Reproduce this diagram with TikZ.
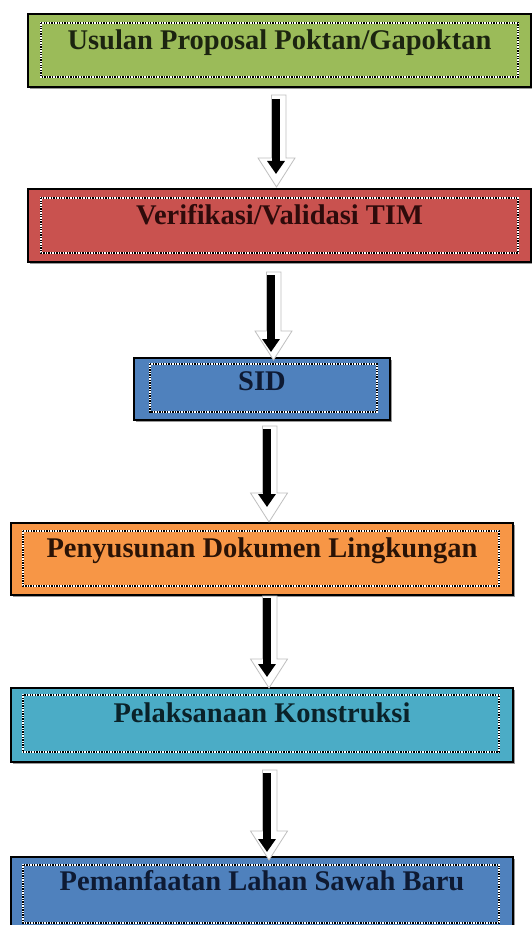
\documentclass[tikz,border=0pt]{standalone}
\usepackage{fontspec}
\setmainfont{Liberation Serif}
\usetikzlibrary{arrows.meta,calc}
\definecolor{cgreen}{HTML}{9BBB59}
\definecolor{cred}{HTML}{C9524F}
\definecolor{cblue}{HTML}{4F81BD}
\definecolor{corange}{HTML}{F79646}
\definecolor{caqua}{HTML}{4BACC6}
\definecolor{tgreen}{HTML}{1C2410}
\definecolor{tred}{HTML}{2E0B0B}
\definecolor{tblue}{HTML}{0E1A33}
\definecolor{torange}{HTML}{2A1306}
\definecolor{taqua}{HTML}{0A2229}
% #1 black shaft centre, #2 head centre, #3 top, #4 tip
\newcommand\outlinearrow[4]{%
  \draw[outarrow] (#1-4.5,#3) -- (#1+10,#3) -- (#1+10,#4-29) -- (#2+18.5,#4-29)
    -- (#2,#4) -- (#2-18.5,#4-29) -- (#1-4.5,#4-29) -- cycle;}
\newcommand\dotbox[4]{%
  \draw[dotunder] (#1,#2) rectangle (#3,#4);
  \draw[dotover] (#1,#2) rectangle (#3,#4);}
\begin{document}
\begin{tikzpicture}[x=1pt,y=-1pt,
  boxshape/.style={draw=black, line width=2pt, inner sep=0pt},
  boxshadow/.style={fill=black!40},
  dotunder/.style={draw=white, line width=1.6pt},
  dotover/.style={draw=black, line width=1.6pt, dash pattern=on 1.3pt off 1.3pt},
  lbl/.style={anchor=base, inner sep=0pt, font=\fontsize{28.5}{30}\selectfont\bfseries},
  outarrow/.style={draw=black!25, line width=0.8pt, fill=white},
  blackarrow/.style={draw=black, line width=7.5pt, -{Triangle[width=17pt,length=13pt]}}]
\useasboundingbox (0,0) rectangle (532,925);
\clip (0,0) rectangle (532,925);
\fill[white] (0,0) rectangle (532,925);
% shadows
\fill[boxshadow] (30,16) rectangle (533,89);
\fill[boxshadow] (30,191) rectangle (533,264);
\fill[boxshadow] (136,360) rectangle (392,422);
\fill[boxshadow] (13,525) rectangle (515,597);
\fill[boxshadow] (13,690) rectangle (515,764);
\fill[boxshadow] (13,859) rectangle (515,934);
% boxes
\node[boxshape, fill=cgreen, minimum width=503pt, minimum height=73pt] (b1) at (279.5,50.5) {};
\node[boxshape, fill=cred, minimum width=503pt, minimum height=73pt] (b2) at (279.5,225.5) {};
\node[boxshape, fill=cblue, minimum width=256pt, minimum height=62pt] (b3) at (262,389) {};
\node[boxshape, fill=corange, minimum width=502pt, minimum height=72pt] (b4) at (262,559) {};
\node[boxshape, fill=caqua, minimum width=502pt, minimum height=74pt] (b5) at (262,725) {};
\node[boxshape, fill=cblue, minimum width=502pt, minimum height=75pt] (b6) at (262,894.5) {};
% dotted inner borders
\dotbox{41}{23}{518}{77}
\dotbox{41}{198}{518}{253}
\dotbox{150}{364}{377}{412}
\dotbox{23}{531}{499}{586}
\dotbox{23}{695}{499}{752}
\dotbox{23}{865}{499}{923}
% labels
\node[lbl, text=tgreen] (t1) at (279.5,50) {Usulan Proposal Poktan/Gapoktan};
\node[lbl, text=tred] (t2) at (279.5,225) {Verifikasi/Validasi TIM};
\node[lbl, text=tblue] (t3) at (262,390) {SID};
\node[lbl, text=torange] (t4) at (262,557) {Penyusunan Dokumen Lingkungan};
\node[lbl, text=taqua] (t5) at (262,722) {Pelaksanaan Konstruksi};
\node[lbl, text=tblue] (t6) at (262,890) {Pemanfaatan Lahan Sawah Baru};
% arrows: outline shadows
\outlinearrow{276}{276.5}{95}{187}
\outlinearrow{271}{273.5}{272}{360}
\outlinearrow{267}{269}{426}{522}
\outlinearrow{267}{269}{596}{688}
\outlinearrow{267}{269}{770}{860}
% arrow coordinates
\coordinate (a1s) at (b1.south -| 276,0); \coordinate (a1e) at (276,174);
\coordinate (a2s) at (271,275); \coordinate (a2e) at (271,352);
\coordinate (a3s) at (267,429); \coordinate (a3e) at (267,507);
\coordinate (a4s) at (267,598); \coordinate (a4e) at (267,677);
\coordinate (a5s) at (267,773); \coordinate (a5e) at (267,852);
\draw[blackarrow] ($(a1s)+(0,11)$) -- (a1e);
\draw[blackarrow] (a2s) -- (a2e);
\draw[blackarrow] (a3s) -- (a3e);
\draw[blackarrow] (a4s) -- (a4e);
\draw[blackarrow] (a5s) -- (a5e);
\end{tikzpicture}
\end{document}
